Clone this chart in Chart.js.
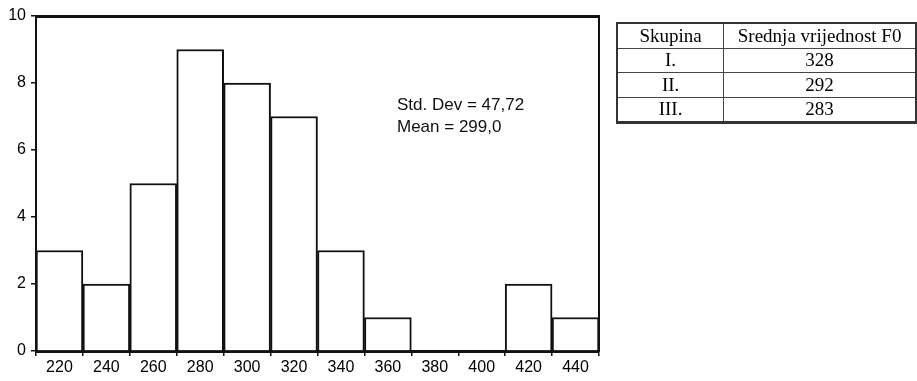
<!DOCTYPE html>
<html>
<head>
<meta charset="utf-8">
<script src="https://cdn.jsdelivr.net/npm/chart.js@4.4.1/dist/chart.umd.min.js"></script>
<style>
  html, body { margin: 0; padding: 0; background: #fff; }
  #wrap { position: relative; width: 917px; height: 381px; overflow: hidden; background: #fff; }
  #c { position: absolute; left: 0; top: 0; }
  #stats { position: absolute; left: 397px; top: 94px; font-family: 'Liberation Sans', Arial, sans-serif;
           font-size: 17px; line-height: 22px; color: #111; white-space: nowrap; }
  #tbl { position: absolute; left: 616px; top: 22px; border-collapse: collapse;
         font-family: 'Liberation Serif', 'Times New Roman', serif; font-size: 19px; color: #000;
         border: 2px solid #333; border-bottom-width: 3px; }
  #tbl td, #tbl th { border: 1px solid #444; padding: 0; height: 23.5px; line-height: 20px; text-align: center; font-weight: normal; }
  #tbl .c1 { width: 106px; }
  #tbl .c2 { width: 193px; }
</style>
</head>
<body>
<div id="wrap">
  <canvas id="c" width="917" height="381"></canvas>
  <div id="stats"></div>
  <table id="tbl"></table>
</div>
<script>
// ---- data ----
const categories = ['220','240','260','280','300','320','340','360','380','400','420','440'];
const counts     = [3, 2, 5, 9, 8, 7, 3, 1, 0, 0, 2, 1];
const yMin = 0, yMax = 10, yStep = 2;
const statLabels = ['Std. Dev', 'Mean'];
const statValues = ['47,72', '299,0'];
const tableHeader = ['Skupina', 'Srednja vrijednost F0'];
const groups = ['I.', 'II.', 'III.'];
const groupMeans = [328, 292, 283];

// ---- text overlays ----
document.getElementById('stats').innerHTML =
  statLabels.map((l, i) => l + ' = ' + statValues[i]).join('<br>');
let html = '<tr><th class="c1">' + tableHeader[0] + '</th><th class="c2">' + tableHeader[1] + '</th></tr>';
groups.forEach((g, i) => { html += '<tr><td>' + g + '</td><td>' + groupMeans[i] + '</td></tr>'; });
document.getElementById('tbl').innerHTML = html;

// ---- chart ----
const ink = '#111';
new Chart(document.getElementById('c'), {
  type: 'bar',
  data: {
    labels: categories,
    datasets: [{
      data: counts,
      backgroundColor: '#ffffff',
      borderColor: ink,
      borderWidth: 2,
      categoryPercentage: 1.0,
      barPercentage: 1.0
    }]
  },
  options: {
    responsive: false,
    animation: false,
    devicePixelRatio: 1,
    layout: { padding: { left: 0, top: 16, right: 318, bottom: 0 } },
    plugins: { legend: { display: false }, tooltip: { enabled: false } },
    scales: {
      x: {
        position: 'bottom',
        offset: true,
        grid: { offset: true, drawOnChartArea: false, drawTicks: true, tickLength: 5, color: ink, lineWidth: 1.5 },
        border: { display: true, color: ink, width: 3 },
        ticks: { color: '#000', padding: 2, maxRotation: 0, autoSkip: false,
                 font: { family: "'Liberation Sans', Arial, sans-serif", size: 16 } },
        afterFit: s => { s.height = 30; }
      },
      x2: {
        position: 'top',
        grid: { display: false, drawTicks: false },
        border: { display: true, color: ink, width: 3 },
        ticks: { display: false },
        afterFit: s => { s.height = 0; }
      },
      y: {
        position: 'left',
        min: yMin, max: yMax,
        grid: { drawOnChartArea: false, drawTicks: true, tickLength: 5, color: ink, lineWidth: 1.5 },
        border: { display: true, color: ink, width: 2 },
        ticks: { stepSize: yStep, color: '#000', padding: 5,
                 font: { family: "'Liberation Sans', Arial, sans-serif", size: 16 } },
        afterFit: s => { s.width = 36; }
      },
      y2: {
        position: 'right',
        min: yMin, max: yMax,
        grid: { display: false, drawTicks: false },
        border: { display: true, color: ink, width: 2 },
        ticks: { display: false },
        afterFit: s => { s.width = 0; }
      }
    }
  }
});
</script>
</body>
</html>
